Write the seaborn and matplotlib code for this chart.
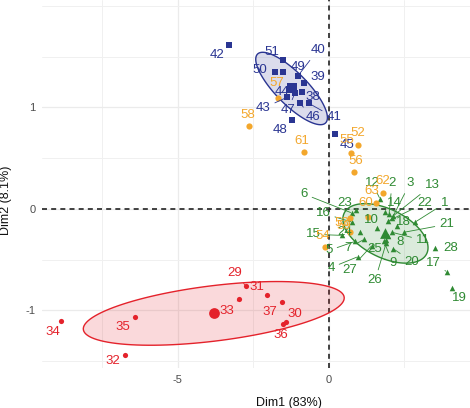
import numpy as np
import pandas as pd
import matplotlib
matplotlib.use("Agg")
import matplotlib.pyplot as plt
import seaborn as sns
from matplotlib.patches import Polygon
from matplotlib.ticker import MultipleLocator, FixedLocator

# ---------------- data ----------------
red_ids = [29, 30, 31, 32, 33, 34, 35, 36, 37]
red_dim1 = [-2.75, -1.42, -2.05, -6.75, -2.98, -8.87, -6.42, -1.52, -1.56]
red_dim2 = [-0.76, -1.11, -0.85, -1.44, -0.89, -1.10, -1.06, -1.13, -0.92]

green_ids = list(range(1, 29))
green_dim1 = [2.85, 1.99, 2.09, 0.96, 0.86, 0.76, 1.16, 1.95, 1.82, 1.59,
              2.09, 1.69, 2.12, 1.85, 0.43, 0.76, 3.91, 2.25, 4.07, 2.12,
              2.48, 1.95, 0.89, 1.03, 1.89, 1.89, 1.42, 3.51]
green_dim2 = [-0.13, -0.05, -0.09, -0.47, -0.32, -0.04, -0.30, -0.27, -0.32, -0.19,
              -0.23, 0.10, -0.07, -0.03, -0.26, -0.13, -0.62, -0.17, -0.78, -0.39,
              -0.23, -0.12, -0.01, -0.23, -0.31, -0.34, -0.36, -0.38]

blue_ids = [38, 39, 40, 41, 42, 43, 44, 45, 46, 47, 48, 49, 50, 51]
blue_dim1 = [-0.89, -0.83, -1.03, -0.66, -3.31, -1.39, -1.26, 0.20, -0.96, -1.13,
             -1.23, -1.52, -1.79, -1.52]
blue_dim2 = [1.15, 1.24, 1.31, 1.04, 1.62, 1.10, 1.19, 0.74, 1.04, 1.14,
             0.88, 1.35, 1.35, 1.47]

orange_ids = [52, 53, 54, 55, 56, 57, 58, 59, 60, 61, 62, 63]
orange_dim1 = [0.96, 0.70, -0.13, 0.73, 0.83, -1.69, -2.65, 0.70, 1.29, -0.83, 1.79, 1.56]
orange_dim2 = [0.63, -0.23, -0.37, 0.55, 0.36, 1.09, 0.82, -0.09, -0.08, 0.56, 0.16, 0.06]

x_ticks = [-5, 0]
y_ticks = [-1, 0, 1]
x_label = "Dim1 (83%)"
y_label = "Dim2 (8.1%)"

# ---------------- styling / layout ----------------
colors = {"red": "#E4222B", "green": "#2F8A33", "blue": "#2A3592", "orange": "#F3A72C"}
markers = {"red": "o", "green": "^", "blue": "s", "orange": "o"}
ellipse_groups = ["red", "green", "blue"]

# label offsets in image pixels (dx right, dy down)
label_off = {
    29: (-11, -13), 30: (9, -8), 31: (-10, -8), 32: (-12, 6), 33: (-12, 12),
    34: (-8, 11), 35: (-12, 10), 36: (-2, 11), 37: (-12, 10),
    1: (30, -19), 2: (3, -31), 3: (18, -35), 4: (-27, 11), 5: (-26, 9),
    6: (-48, -19), 7: (-16, 9), 8: (12, 6), 9: (9, 22), 10: (-6, -8),
    11: (31, 8), 12: (-8, -16), 13: (39, -31), 14: (10, -9), 15: (-29, -1),
    16: (-29, -9), 17: (-14, -9), 18: (6, -4), 19: (8, 10), 20: (19, 13),
    21: (43, -8), 22: (37, -18), 23: (-11, -7), 24: (-15, 0), 25: (-11, 9),
    26: (-11, 37), 27: (-22, 24), 28: (16, 0),
    38: (11, 5), 39: (14, -6), 40: (20, -26), 41: (25, 14), 42: (-12, 10),
    43: (-24, 11), 44: (-9, 4), 45: (12, 11), 46: (13, 14), 47: (-7, 17),
    48: (-12, 10), 49: (15, -5), 50: (-15, -2), 51: (-11, -8),
    52: (0, -12), 53: (-8, -9), 54: (-2, -11), 55: (-4, -13), 56: (2, -11),
    57: (-1, -15), 58: (-1, -11), 59: (-6, 8), 60: (-2, -14), 61: (-2, -11),
    62: (0, -12), 63: (-4, -12),
}

frames = []
for g, ids, d1, d2 in [("red", red_ids, red_dim1, red_dim2),
                       ("green", green_ids, green_dim1, green_dim2),
                       ("blue", blue_ids, blue_dim1, blue_dim2),
                       ("orange", orange_ids, orange_dim1, orange_dim2)]:
    frames.append(pd.DataFrame({"id": ids, "Dim1": d1, "Dim2": d2, "group": g}))
df = pd.concat(frames, ignore_index=True)

sns.set_theme(style="white")
plt.rcParams["font.family"] = ["Liberation Sans", "DejaVu Sans"]
plt.rcParams["axes.unicode_minus"] = False

fig = plt.figure(figsize=(4.7, 4.08), dpi=100)
ax = fig.add_axes([42 / 470, 40 / 408, 428 / 470, 368 / 408])

ax.set_xlim(-9.5, 4.67)
ax.set_ylim(-1.567, 2.059)

# grid
ax.xaxis.set_major_locator(FixedLocator(x_ticks))
ax.xaxis.set_minor_locator(MultipleLocator(2.5))
ax.yaxis.set_major_locator(FixedLocator(y_ticks))
ax.yaxis.set_minor_locator(MultipleLocator(0.5))
ax.grid(True, which="major", color="#EBEBEB", lw=0.9, zorder=0)
ax.grid(True, which="minor", color="#F0F0F0", lw=0.7, zorder=0)
ax.set_axisbelow(True)
for s in ax.spines.values():
    s.set_visible(False)
ax.tick_params(axis="both", which="major", length=2.8, width=0.7, color="#333333",
               labelsize=8, labelcolor="#4D4D4D", pad=2)
ax.tick_params(axis="both", which="minor", length=0)

# reference lines
ax.axhline(0, color="#222222", lw=1.2, ls=(0, (3, 2.5)), zorder=1)
ax.axvline(0, color="#222222", lw=1.2, ls=(0, (3, 2.5)), zorder=1)


def ellipse_pts(x, y, level=0.70, n=120):
    mu = np.array([x.mean(), y.mean()])
    cov = np.cov(x, y)
    vals, vecs = np.linalg.eigh(cov)
    t = np.sqrt(-2 * np.log(1 - level))
    th = np.linspace(0, 2 * np.pi, n)
    circ = np.vstack([np.cos(th), np.sin(th)])
    pts = vecs @ (np.sqrt(vals)[:, None] * circ) * t + mu[:, None]
    return pts.T


for g in ellipse_groups:
    sub = df[df.group == g]
    pts = ellipse_pts(sub.Dim1.values, sub.Dim2.values)
    ax.add_patch(Polygon(pts, closed=True, facecolor=colors[g], alpha=0.17,
                         edgecolor="none", zorder=2))
    ax.add_patch(Polygon(pts, closed=True, facecolor="none",
                         edgecolor=colors[g], lw=1.0, zorder=2.5))

# individual points
sizes = {"red": 14, "green": 16, "blue": 15, "orange": 20}
for g in ["red", "green", "blue", "orange"]:
    sub = df[df.group == g]
    sns.scatterplot(data=sub, x="Dim1", y="Dim2", color=colors[g], marker=markers[g],
                    s=sizes[g], linewidth=0, ax=ax, zorder=3, legend=False)

# group means
means = df[df.group.isin(ellipse_groups)].groupby("group", as_index=False)[["Dim1", "Dim2"]].mean()
for _, r in means.iterrows():
    sns.scatterplot(x=[r.Dim1], y=[r.Dim2], color=colors[r.group], marker=markers[r.group],
                    s=60, linewidth=0, ax=ax, zorder=3.5, legend=False)

# labels
px2pt = 0.72
for _, r in df.iterrows():
    dx, dy = label_off.get(int(r.id), (6, -8))
    far = np.hypot(dx, dy) > 16
    ax.annotate(str(int(r.id)), xy=(r.Dim1, r.Dim2),
                xytext=(dx * px2pt, -dy * px2pt), textcoords="offset points",
                ha="center", va="center", fontsize=9.5, color=colors[r.group],
                zorder=4,
                arrowprops=dict(arrowstyle="-", color=colors[r.group], lw=0.6,
                                shrinkA=1, shrinkB=1) if far else None)

ax.set_xlabel(x_label, fontsize=9, color="#111111")
ax.set_ylabel(y_label, fontsize=9, color="#111111")
ax.xaxis.set_label_coords(0.577, -0.079)
ax.yaxis.set_label_coords(-0.070, 0.457)

fig.savefig("out.png", dpi=100)
